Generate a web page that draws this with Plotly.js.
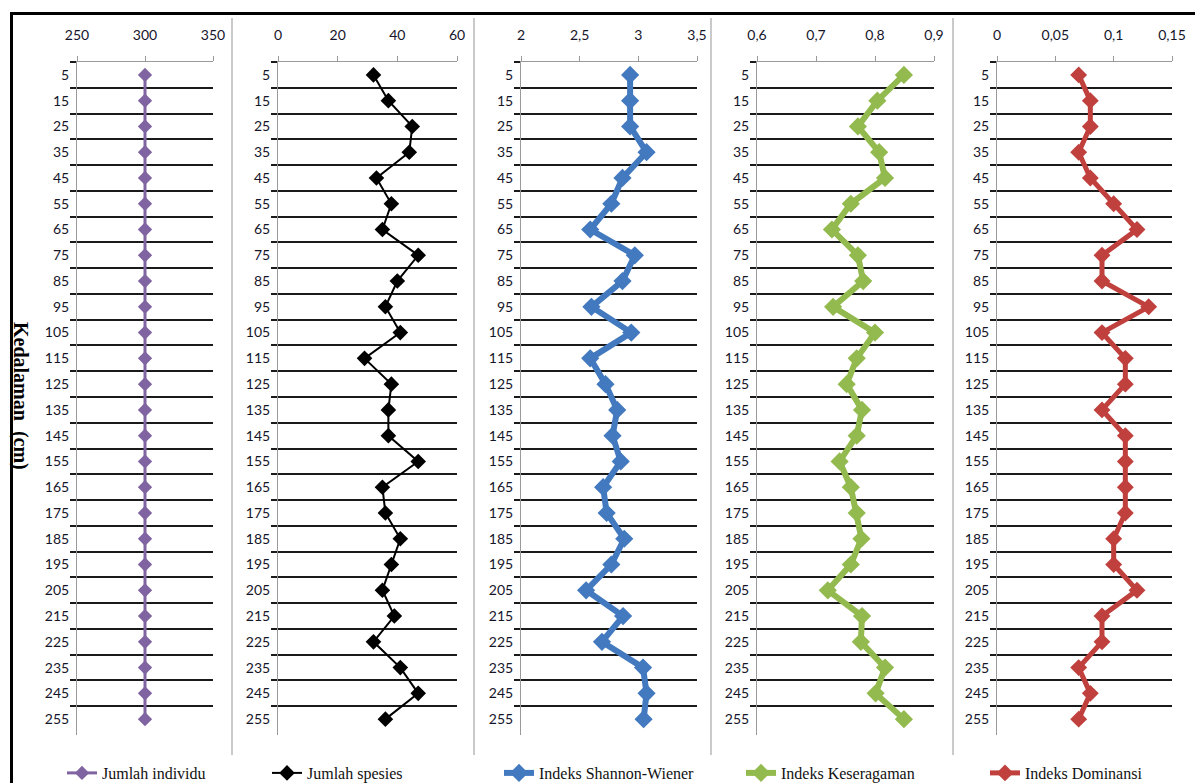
<!DOCTYPE html>
<html>
<head>
<meta charset="utf-8">
<script src="https://cdn.plot.ly/plotly-3.0.1.min.js"></script>
<style>html,body{margin:0;padding:0;background:#fff;}#chart{width:1195px;height:783px;}</style>
</head>
<body>
<div id="chart"></div>
<script>
// ---- data ----
const depths = ["5","15","25","35","45","55","65","75","85","95","105","115","125","135","145","155","165","175","185","195","205","215","225","235","245","255"];
const jumlahIndividu = [300,300,300,300,300,300,300,300,300,300,300,300,300,300,300,300,300,300,300,300,300,300,300,300,300,300];
const jumlahSpesies = [32,37,45,44,33,38,35,47,40,36,41,29,38,37,37,47,35,36,41,38,35,39,32,41,47,36];
const shannonWiener = [2.93,2.93,2.93,3.07,2.865,2.77,2.59,2.97,2.865,2.60,2.94,2.59,2.72,2.82,2.78,2.85,2.70,2.73,2.88,2.77,2.555,2.87,2.69,3.04,3.07,3.045];
const keseragaman = [0.849,0.804,0.771,0.807,0.817,0.759,0.727,0.771,0.780,0.729,0.800,0.769,0.752,0.778,0.769,0.740,0.759,0.769,0.777,0.759,0.720,0.778,0.776,0.817,0.801,0.849];
const dominansi = [0.07,0.08,0.08,0.07,0.08,0.10,0.12,0.09,0.09,0.13,0.09,0.11,0.11,0.09,0.11,0.11,0.11,0.11,0.10,0.10,0.12,0.09,0.09,0.07,0.08,0.07];

const seriesNames = ["Jumlah individu","Jumlah spesies","Indeks Shannon-Wiener","Indeks Keseragaman","Indeks Dominansi"];
const xTickVals = [[250,300,350],[0,20,40,60],[2,2.5,3,3.5],[0.6,0.7,0.8,0.9],[0,0.05,0.1,0.15]];
const xTickText = [["250","300","350"],["0","20","40","60"],["2","2,5","3","3,5"],["0,6","0,7","0,8","0,9"],["0","0,05","0,1","0,15"]];
const yTitle = "Kedalaman  (cm)";

// ---- styling ----
const W = 1195, H = 783;
const px = v => v / W, py = v => 1 - v / H;
const colors = ["#8064A2","#000000","#4279BF","#93BA4E","#C0403D"];
const lineW = [3,2,6,6,5];
const markS = [11,12,14,14,13];
const xPix = [[77,213],[278,457],[521,697],[757,934],[997,1172]];
const yDom = [py(734.6), py(62)];
const legendX = [62,267,499,741,985];
const values = [jumlahIndividu, jumlahSpesies, shannonWiener, keseragaman, dominansi];

const tickFont = {family: "Lato, 'Open Sans', sans-serif", size: 14, color: "#15152a"};
const data = [];
const layout = {
  width: W, height: H,
  margin: {l:0, r:0, t:0, b:0, autoexpand: false},
  paper_bgcolor: "#ffffff", plot_bgcolor: "#ffffff",
  showlegend: true,
  shapes: [], annotations: []
};

for (let i = 0; i < 5; i++) {
  const s = i === 0 ? "" : String(i + 1);
  data.push({
    type: "scatter", mode: "lines+markers",
    x: values[i], y: depths,
    xaxis: "x" + s, yaxis: "y" + s,
    name: seriesNames[i],
    legend: "legend" + s,
    line: {color: colors[i], width: lineW[i]},
    marker: {symbol: "diamond", size: markS[i], color: colors[i]},
    cliponaxis: false,
    hoverinfo: "x+y"
  });
  const xr = xTickVals[i];
  layout["xaxis" + s] = {
    domain: [px(xPix[i][0]), px(xPix[i][1])],
    anchor: "y" + s, side: "top",
    range: [xr[0], xr[xr.length - 1]],
    tickvals: xTickVals[i], ticktext: xTickText[i],
    showgrid: false, zeroline: false,
    showline: true, linecolor: "#9a9a9a", linewidth: 1,
    ticks: "outside", ticklen: 5, tickcolor: "#9a9a9a", tickwidth: 1,
    ticklabelstandoff: 10,
    tickfont: tickFont, automargin: false, fixedrange: true
  };
  layout["yaxis" + s] = {
    domain: yDom, anchor: "x" + s,
    type: "category", categoryorder: "array", categoryarray: depths,
    range: [25.6, -0.5],
    tickson: "boundaries",
    showgrid: true, gridcolor: "#1a1a1a", gridwidth: 2,
    zeroline: false,
    showline: true, linecolor: "#9a9a9a", linewidth: 1,
    ticks: "outside", ticklen: 6, tickcolor: "#1a1a1a", tickwidth: 2,
    ticklabelstandoff: 4,
    tickfont: tickFont, automargin: false, fixedrange: true
  };
  layout["legend" + s] = {
    x: px(legendX[i]), y: py(773), xanchor: "left", yanchor: "middle",
    xref: "paper", yref: "paper",
    orientation: "h", bgcolor: "rgba(0,0,0,0)", borderwidth: 0,
    font: {family: "'Liberation Serif', 'Times New Roman', serif", size: 16, color: "#111"},
    itemclick: false, itemdoubleclick: false
  };
}

// panel frames (chart borders)
[232, 474, 711, 953].forEach(x => {
  layout.shapes.push({type: "line", xref: "paper", yref: "paper",
    x0: px(x), x1: px(x), y0: py(18), y1: py(755),
    line: {color: "#b8b8b8", width: 1.5}, layer: "below"});
});
// outer black border
layout.shapes.push({type: "line", xref: "paper", yref: "paper",
  x0: px(10), x1: px(1195), y0: py(13.5), y1: py(13.5), line: {color: "#000", width: 3}});
layout.shapes.push({type: "line", xref: "paper", yref: "paper",
  x0: px(11.5), x1: px(11.5), y0: py(12), y1: py(783), line: {color: "#000", width: 3}});

layout.annotations.push({
  text: "<b>" + yTitle + "</b>", xref: "paper", yref: "paper",
  x: px(21), y: py(396), xanchor: "center", yanchor: "middle",
  textangle: 90, showarrow: false,
  font: {family: "'Liberation Serif', 'Times New Roman', serif", size: 20, color: "#000"}
});

Plotly.newPlot("chart", data, layout, {staticPlot: true, displayModeBar: false});
</script>
</body>
</html>
